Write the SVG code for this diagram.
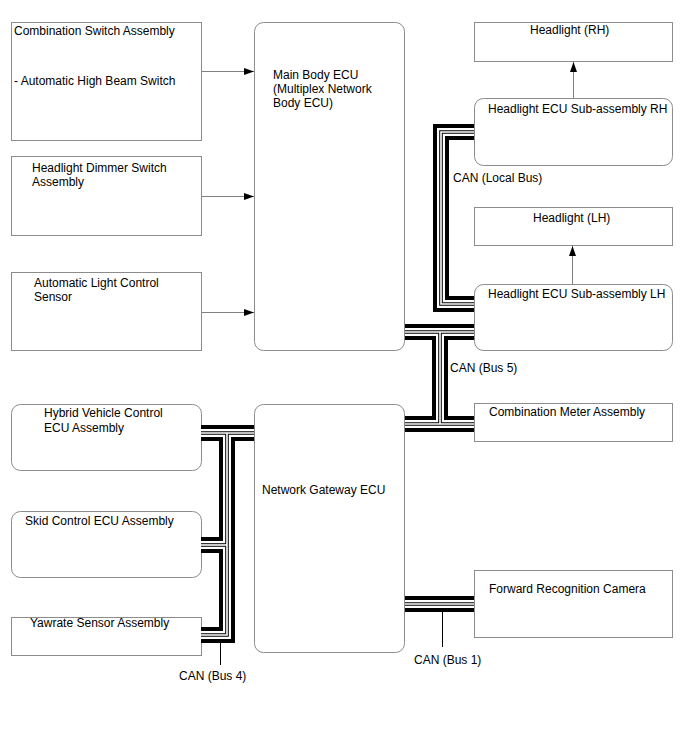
<svg xmlns="http://www.w3.org/2000/svg" xmlns:xlink="http://www.w3.org/1999/xlink" width="688" height="755" viewBox="0 0 688 755">
<style>
.box{fill:#fff;stroke:#8c8c8c;stroke-width:1}
.t{font-family:"Liberation Sans",Arial,sans-serif;font-size:12px;fill:#000}
.arr{stroke:#808080;stroke-width:1;fill:none;marker-end:url(#ah)}
.lead{stroke:#000;stroke-width:1;fill:none}
.b1{stroke:#000;stroke-width:16;fill:none}
.b2{stroke:#fff;stroke-width:8;fill:none}
.b3{stroke:#000;stroke-width:3.6;fill:none}
.b4{stroke:#fff;stroke-width:1.6;fill:none}
</style>
<defs>
<marker id="ah" markerWidth="10" markerHeight="8" refX="10" refY="4" orient="auto" markerUnits="userSpaceOnUse">
<path d="M0,0.5 L10,4 L0,7.5 Z" fill="#000"/>
</marker>
<g id="busgeom">
<path d="M474,132 H441 V304 H474"/>
<path d="M405,332 H474"/>
<path d="M440,332 V424"/>
<path d="M405,424 H474"/>
<path d="M201,433 H254"/>
<path d="M227,433 V635 H201"/>
<path d="M201,545 H227"/>
<path d="M405,604 H474"/>
</g>
</defs>
<rect width="688" height="755" fill="#fff"/>

<g id="comb-switch"><rect class="box" x="11.5" y="22.5" width="190" height="118"/>
<text class="t" x="14" y="35">Combination Switch Assembly</text>
<text class="t" x="14" y="85">- Automatic High Beam Switch</text></g>
<g id="dimmer-switch"><rect class="box" x="11.5" y="156.5" width="190" height="79"/>
<text class="t" x="32" y="172">Headlight Dimmer Switch</text>
<text class="t" x="32" y="186">Assembly</text></g>
<g id="alc-sensor"><rect class="box" x="11.5" y="272.5" width="190" height="78"/>
<text class="t" x="34" y="287">Automatic Light Control</text>
<text class="t" x="34" y="301">Sensor</text></g>
<g id="main-body-ecu"><rect class="box" x="254.5" y="22.5" width="150" height="328" rx="9"/>
<text class="t" x="273" y="79">Main Body ECU</text>
<text class="t" x="273" y="93">(Multiplex Network</text>
<text class="t" x="273" y="107">Body ECU)</text></g>
<g id="headlight-rh"><rect class="box" x="474.5" y="22.5" width="198" height="39"/>
<text class="t" x="530" y="34">Headlight (RH)</text></g>
<g id="hl-ecu-rh"><rect class="box" x="474.5" y="98.5" width="198" height="67" rx="9"/>
<text class="t" x="488" y="113">Headlight ECU Sub-assembly RH</text></g>
<g id="headlight-lh"><rect class="box" x="474.5" y="207.5" width="198" height="38"/>
<text class="t" x="533" y="222">Headlight (LH)</text></g>
<g id="hl-ecu-lh"><rect class="box" x="474.5" y="284.5" width="198" height="66" rx="9"/>
<text class="t" x="488" y="298">Headlight ECU Sub-assembly LH</text></g>
<g id="comb-meter"><rect class="box" x="474.5" y="403.5" width="198" height="38"/>
<text class="t" x="489" y="416">Combination Meter Assembly</text></g>
<g id="hv-ecu"><rect class="box" x="11.5" y="404.5" width="190" height="66" rx="9"/>
<text class="t" x="44" y="417">Hybrid Vehicle Control</text>
<text class="t" x="44" y="432">ECU Assembly</text></g>
<g id="skid-ecu"><rect class="box" x="11.5" y="511.5" width="190" height="66" rx="9"/>
<text class="t" x="25" y="525">Skid Control ECU Assembly</text></g>
<g id="yawrate"><rect class="box" x="11.5" y="617.5" width="190" height="38"/>
<text class="t" x="30" y="627">Yawrate Sensor Assembly</text></g>
<g id="gateway-ecu"><rect class="box" x="254.5" y="404.5" width="150" height="248" rx="9"/>
<text class="t" x="262" y="494">Network Gateway ECU</text></g>
<g id="fr-camera"><rect class="box" x="474.5" y="570.5" width="198" height="67"/>
<text class="t" x="489" y="593">Forward Recognition Camera</text></g>

<g id="connectors">
<use xlink:href="#busgeom" class="b1"/>
<use xlink:href="#busgeom" class="b2"/>
<use xlink:href="#busgeom" class="b3"/>
<use xlink:href="#busgeom" class="b4"/>
<path class="arr" d="M202,71.5 H254"/>
<path class="arr" d="M202,196.5 H254"/>
<path class="arr" d="M202,312.5 H254"/>
<path class="arr" d="M573.5,98 V62"/>
<path class="arr" d="M572.5,284 V246"/>
<path class="lead" d="M220.5,643 V665"/>
<path class="lead" d="M442.5,612 V647"/>
<text class="t" x="453" y="182">CAN (Local Bus)</text>
<text class="t" x="450" y="372">CAN (Bus 5)</text>
<text class="t" x="179" y="680">CAN (Bus 4)</text>
<text class="t" x="414" y="664">CAN (Bus 1)</text>
</g>
</svg>
